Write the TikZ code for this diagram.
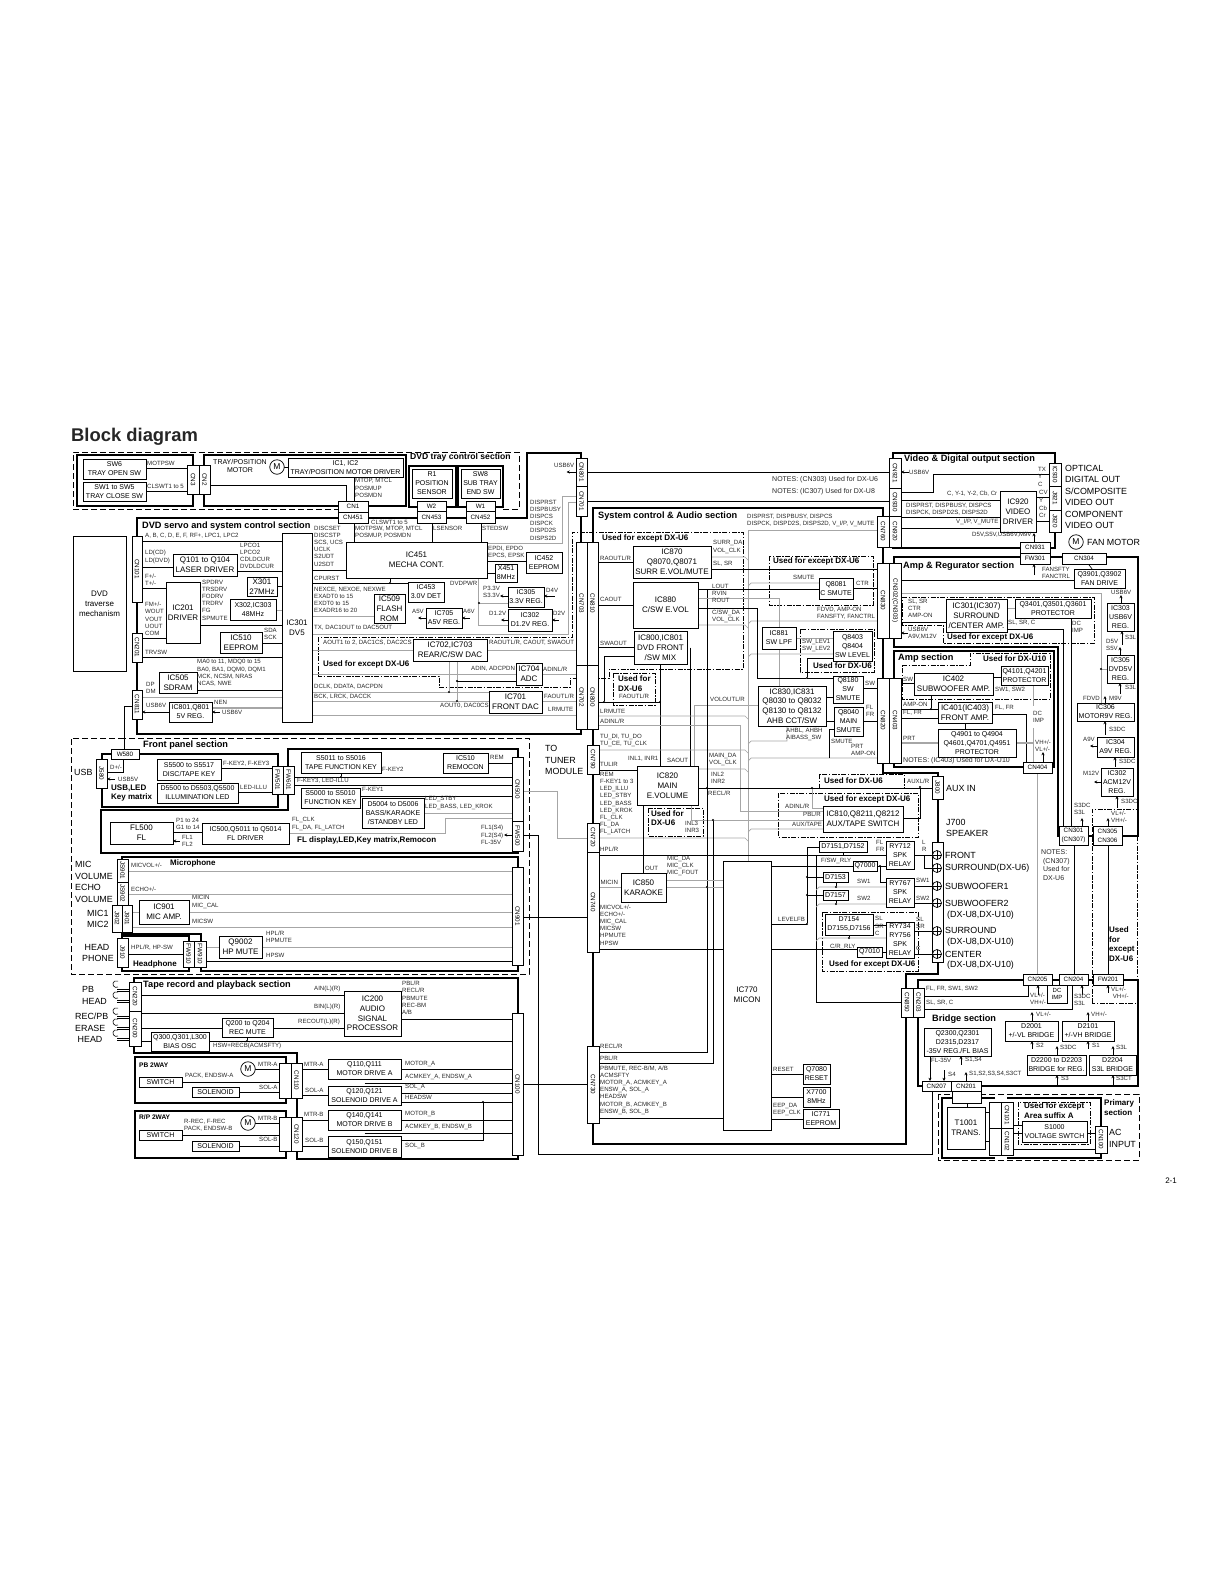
\documentclass[tikz,border=0pt]{standalone}
\usepackage{fontspec,graphicx}
\setmainfont{Liberation Sans}
\usetikzlibrary{arrows.meta,calc,backgrounds}
\tikzset{
  blk/.style={draw,rectangle,fill=white,inner sep=0pt,outer sep=0pt,line width=0.7pt,align=center,font=\fontsize{8}{9.8}\selectfont},
  blks/.style={blk,font=\fontsize{7}{9}\selectfont},
  cn/.style={blk,font=\fontsize{6.3}{7}\selectfont},
  span/.style args={#1/#2/#3/#4}{at={({(#1+#3)/2},{(#2+#4)/2})},minimum width={(#3-#1)*1pt},minimum height={(#4-#2)*1pt}},
  sig/.style={anchor=west,inner sep=0pt,align=left,text=black!85,font=\fontsize{6.1}{7.2}\selectfont},
  note/.style={sig,font=\fontsize{7}{8.7}\selectfont},
  sbold/.style={anchor=west,inner sep=0pt,align=left,font=\fontsize{8}{9.5}\selectfont\bfseries},
  sect/.style={anchor=west,inner sep=0pt,font=\fontsize{9.2}{10}\selectfont\bfseries},
  ext/.style={anchor=west,inner sep=0pt,align=left,font=\fontsize{8.9}{11.5}\selectfont},
  motor/.style={circle,draw,fill=white,inner sep=0pt,minimum size=14.5pt,line width=0.7pt,font=\fontsize{8.5}{9}\selectfont},
  spk/.style={circle,draw,fill=white,inner sep=0pt,minimum size=9pt,line width=0.7pt,path picture={
    \draw[line width=0.6pt] (path picture bounding box.north) -- (path picture bounding box.south);
    \draw[line width=0.6pt] (path picture bounding box.west) -- (path picture bounding box.east);}},
  dot/.style={circle,fill=black,inner sep=0pt,minimum size=2.4pt},
  wire/.style={line width=0.6pt},
  gwire/.style={line width=0.7pt,gray!70},
  gthick/.style={line width=1.3pt,gray!70},
  frm/.style={line width=1.7pt},
  dashbox/.style={line width=0.7pt,dash pattern=on 6pt off 3pt},
  ddbox/.style={line width=0.7pt,dash pattern=on 5pt off 1.5pt on 1.5pt off 1.5pt},
  arr/.style={-{Stealth[length=3.2pt,width=3pt]},line width=0.6pt},
  rarr/.style={{Stealth[length=3.2pt,width=3pt]}-,line width=0.6pt}
}
\newcommand{\vt}[1]{\rotatebox{-90}{#1}}
\newcommand{\hw}[4][wire]{\draw[#1] (#2 |- 0,#4) -- (#3 |- 0,#4);}
\newcommand{\vw}[4][wire]{\draw[#1] (#2 -| #4,0) -- (#3 -| #4,0);}
\newcommand{\busl}[2]{\draw[gwire] (#1 |- 0,#2) -- ($(BUS |- 0,#2)+(-3,0)$) -- ($(BUS |- 0,#2)+(0,3)$);}
\newcommand{\stub}[3]{\draw[gwire] ($(#1 |- 0,#3)+(0,3)$) -- ($(#1 |- 0,#3)+(3,0)$) -- (#2 |- 0,#3);}
\begin{document}
\begin{tikzpicture}[x=1pt,y=-1pt]
  \useasboundingbox (0,0) rectangle (1219,1582);
  \node[anchor=west,inner sep=0pt,font=\fontsize{18.4}{20}\selectfont\bfseries,text=black!85] (title) at (71,437) {Block diagram};
  \node[anchor=east,inner sep=0pt,font=\fontsize{8}{9}\selectfont] (page) at (1177,1181) {2-1};

  % DVD tray control
  \node[blks,span=83/459/146/479] (SW6) {SW6\\TRAY OPEN SW};
  \node[blks,span=83/482/146/501] (SW1) {SW1 to SW5\\TRAY CLOSE SW};
  \node[cn,span=187/465/199/494] (CN3) {\vt{CN3}};
  \node[cn,span=199/465/210/494] (CN2) {\vt{CN2}};
  \node[anchor=center,inner sep=0pt,align=center,font=\fontsize{7}{8}\selectfont] (tTray) at (240,466) {TRAY/POSITION\\MOTOR};
  \node[motor] (M1) at (277,467) {M};
  \node[blks,span=288/458/403/477] (IC1) {IC1, IC2\\TRAY/POSITION MOTOR DRIVER};
  \node[cn,span=338/501/368/512] (CN1) {CN1};
  \node[cn,span=338/512/368/523] (CN451) {CN451};
  \node[blks,span=412/469/452/498] (R1) {R1\\POSITION\\SENSOR};
  \node[blks,span=461/469/500/498] (SW8) {SW8\\SUB TRAY\\END SW};
  \node[cn,span=417/501/446/511] (W2) {W2};
  \node[cn,span=417/511/446/523] (CN453) {CN453};
  \node[cn,span=466/501/495/511] (W1) {W1};
  \node[cn,span=466/511/495/523] (CN452) {CN452};
  \node[sect,font=\fontsize{8.6}{10}\selectfont\bfseries] (tDvdTray) at (410,457) {DVD tray control section};
  \node[sig] (sMOTPSW) at (147,463) {MOTPSW};
  \node[sig] (sCLSWT) at (147,486) {CLSWT1 to 5};
  \node[sig] (sMTOP) at (355,488) {MTOP, MTCL\\POSMUP\\POSMDN};

  % DVD servo and system control
  \node[blk,span=73/536/126/671] (TRV) {DVD\\traverse\\mechanism};
  \node[sect] (tDvdServo) at (142,526) {DVD servo and system control section};
  \node[cn,span=132/536/142/602] (CN101) {\vt{CN101}};
  \node[cn,span=132/633/142/662] (CN201) {\vt{CN201}};
  \node[cn,span=132/690/142/719] (CN811) {\vt{CN811}};
  \node[blk,span=173/554/237/576] (Q101) {Q101 to Q104\\LASER DRIVER};
  \node[blk,span=166/582/200/643] (IC201) {IC201\\DRIVER};
  \node[blk,span=247/577/277/596] (X301) {X301\\27MHz};
  \node[blks,span=230/599/276/620] (X302) {X302,IC303\\48MHz};
  \node[blk,span=220/632/262/653] (IC510) {IC510\\EEPROM};
  \node[blk,span=159/672/197/693] (IC505) {IC505\\SDRAM};
  \node[blks,span=169/702/212/722] (IC801) {IC801,Q801\\5V REG.};
  \node[blk,span=282/533/312/722] (IC301) {IC301\\DV5};
  \node[blk,span=346/542/487/578] (IC451) {IC451\\MECHA CONT.};
  \node[blks,span=408/582/444/602] (IC453) {IC453\\3.0V DET};
  \node[blk,span=374/594/405/623] (IC509) {IC509\\FLASH\\ROM};
  \node[blks,span=426/608/462/628] (IC705) {IC705\\A5V REG.};
  \node[blks,span=526/552/562/573] (IC452) {IC452\\EEPROM};
  \node[blks,span=495/564/517/582] (X451) {X451\\8MHz};
  \node[blks,span=508/587/544/607] (IC305) {IC305\\3.3V REG.};
  \node[blks,span=508/609/552/631] (IC302) {IC302\\D1.2V REG.};
  \node[blk,span=413/639/487/661] (IC702) {IC702,IC703\\REAR/C/SW DAC};
  \node[blk,span=516/663/542/685] (IC704) {IC704\\ADC};
  \node[blk,span=489/691/542/713] (IC701) {IC701\\FRONT DAC};
  \node[cn,span=576/458/587/486] (CN801) {\vt{CN801}};
  \node[cn,span=576/486/587/516] (CN701) {\vt{CN701}};
  \node[cn,span=576/542/587/665] (CN703) {\vt{CN703}};
  \node[cn,span=576/665/587/729] (CN702) {\vt{CN702}};
  \node[cn,span=587/542/598/665] (CN810) {\vt{CN810}};
  \node[cn,span=587/665/598/729] (CN800) {\vt{CN800}};
  \node[sig] (sABC) at (145,536) {A, B, C, D, E, F, RF+, LPC1, LPC2};
  \node[sig] (sLD) at (145,557) {LD(CD)\\LD(DVD)};
  \node[sig] (sFT) at (145,580) {F+/-\\T+/-};
  \node[sig] (sFM) at (145,619) {FM+/-\\WOUT\\VOUT\\UOUT\\COM};
  \node[sig] (sTRVSW) at (145,652) {TRVSW};
  \node[sig] (sLPCO) at (240,556) {LPCO1\\LPCO2\\CDLDCUR\\DVDLDCUR};
  \node[sig] (sSPDRV) at (202,600) {SPDRV\\TRSDRV\\FODRV\\TRDRV\\FG\\SPMUTE};
  \node[sig] (sSDA) at (264,634) {SDA\\SCK};
  \node[sig] (sMA0) at (197,673) {MA0 to 11, MDQ0 to 15\\BA0, BA1, DQM0, DQM1\\MCK, NCSM, NRAS\\NCAS, NWE};
  \node[sig] (sDP) at (146,688) {DP\\DM};
  \node[sig] (sUSBa) at (146,705) {USB6V};
  \node[sig] (sNEN) at (214,702) {NEN};
  \node[sig] (sUSBb) at (222,712) {USB6V};
  \node[sig] (sDISC) at (314,546) {DISCSET\\DISCSTP\\SCS, UCS\\UCLK\\S2UDT\\U2SDT};
  \node[sig] (sCPU) at (314,578) {CPURST};
  \node[sig] (sNEX) at (314,600) {NEXCE, NEXOE, NEXWE\\EXADT0 to 15\\EXDT0 to 15\\EXADR16 to 20};
  \node[sig] (sTX) at (314,628) {TX, DAC1OUT to DAC5OUT};
  \node[sig] (sAOUT) at (323,643) {AOUT1 to 2, DAC1CS, DAC2CS};
  \node[sbold] (sUsedA) at (323,664) {Used for except DX-U6};
  \node[sig] (sDCLK) at (314,687) {DCLK, DDATA, DACPDN};
  \node[sig] (sBCK) at (314,697) {BCK, LRCK, DACCK};
  \node[sig] (sCLSb) at (371,522) {CLSWT1 to 5};
  \node[sig] (sMOTb) at (355,532) {MOTPSW, MTOP, MTCL\\POSMUP, POSMDN};
  \node[sig] (sLSEN) at (433,528) {LSENSOR};
  \node[sig] (sSTED) at (482,528) {STEDSW};
  \node[sig] (sEPD) at (488,552) {EPDI, EPDO\\EPCS, EPSK};
  \node[sig] (sDVDP) at (450,583) {DVDPWR};
  \node[sig] (sP33) at (483,592) {P3.3V\\S3.3V};
  \node[sig] (sD4V) at (546,590) {D4V};
  \node[sig] (sD12) at (489,613) {D1.2V};
  \node[sig] (sD2V) at (553,613) {D2V};
  \node[sig] (sA5V) at (412,611) {A5V};
  \node[sig] (sA6V) at (463,611) {A6V};
  \node[sig] (sDISP) at (530,520) {DISPRST\\DISPBUSY\\DISPCS\\DISPCK\\DISPD2S\\DISPS2D};
  \node[sig] (sUSBc) at (554,465) {USB6V};
  \node[sig] (sRAO) at (489,643) {RAOUTL/R, CAOUT, SWAOUT};
  \node[sig] (sADIN) at (471,669) {ADIN, ADCPDN};
  \node[sig] (sADL) at (543,669) {ADINL/R};
  \node[sig] (sFAO) at (544,696) {FAOUTL/R};
  \node[sig] (sLRM) at (548,709) {LRMUTE};
  \node[sig] (sAOUT0) at (440,706) {AOUT0, DAC0CS};
  \node[dot] (dA) at (390,583) {};
  \node[dot] (dB) at (449,692) {};
  \node[dot] (dC) at (457,701) {};
  \node[dot] (dD) at (457,681) {};
  \node[dot] (dE) at (479,603) {};

  % Front panel
  \node[cn,span=111/749/139/759] (W580) {W580};
  \node[cn,span=96/759/107/788] (J580) {\vt{J580}};
  \node[blks,span=157/759/221/780] (S5500) {S5500 to S5517\\DISC/TAPE KEY};
  \node[blks,span=157/783/238/803] (D5500) {D5500 to D5503,Q5500\\ILLUMINATION LED};
  \node[cn,span=272/766/283/794] (FW501) {\vt{FW501}};
  \node[cn,span=283/766/294/794] (FW601) {\vt{FW601}};
  \node[blks,span=301/752/381/773] (S5011) {S5011 to S5016\\TAPE FUNCTION KEY};
  \node[blks,span=443/753/488/773] (IC510b) {IC510\\REMOCON};
  \node[blks,span=301/788/360/808] (S5000) {S5000 to S5010\\FUNCTION KEY};
  \node[blks,span=362/798/424/828] (D5004) {D5004 to D5006\\BASS/KARAOKE\\/STANDBY LED};
  \node[cn,span=512/757/523/821] (CN500) {\vt{CN500}};
  \node[cn,span=512/821/523/851] (FW500) {\vt{FW500}};
  \node[blk,span=110/822/173/844] (FL500) {FL500\\FL};
  \node[blks,span=202/823/289/844] (IC500) {IC500,Q5011 to Q5014\\FL DRIVER};
  \node[sect] (tFront) at (143,745) {Front panel section};
  \node[ext] (tUSB) at (74,772) {USB};
  \node[sig] (sDpm) at (110,767) {D+/-};
  \node[sig] (sUSB5) at (118,779) {USB5V};
  \node[sbold] (sKeym) at (111,793) {USB,LED\\Key matrix};
  \node[sig] (sFK2) at (223,764) {F-KEY2, F-KEY3};
  \node[sig] (sLED) at (240,787) {LED-ILLU};
  \node[sig] (sREM) at (490,757) {REM};
  \node[sig] (sFK2b) at (382,769) {F-KEY2};
  \node[sig] (sFK3) at (297,781) {F-KEY3, LED-ILLU};
  \node[sig] (sFK1) at (362,789) {F-KEY1};
  \node[sig] (sSTBY) at (425,803) {LED\_STBY\\LED\_BASS, LED\_KROK};
  \node[sig] (sP1) at (176,824) {P1 to 24\\G1 to 14};
  \node[sig] (sFL1) at (182,841) {FL1\\FL2};
  \node[sig] (sFLC) at (292,824) {FL\_CLK\\FL\_DA, FL\_LATCH};
  \node[sbold] (sDisp) at (297,840) {FL display,LED,Key matrix,Remocon};
  \node[sig] (sFLS) at (481,835) {FL1(S4)\\FL2(S4)\\FL-35V};
  \node[dot] (dS) at (341,777) {};

  % Microphone and headphone
  \node[cn,span=117/859/128/882] (JS901) {\vt{JS901}};
  \node[cn,span=117/882/128/905] (JS902) {\vt{JS902}};
  \node[cn,span=112/905/122/932] (J902) {\vt{J902}};
  \node[cn,span=122/905/132/932] (J901) {\vt{J901}};
  \node[cn,span=117/938/128/967] (J910) {\vt{J910}};
  \node[blk,span=139/900/189/924] (IC901) {IC901\\MIC AMP.};
  \node[cn,span=183/941/194/967] (FW910) {\vt{FW910}};
  \node[cn,span=194/941/206/967] (FW910b) {\vt{FW910}};
  \node[blk,span=219/936/262/958] (Q9002) {Q9002\\HP MUTE};
  \node[cn,span=512/867/523/965] (CN901) {\vt{CN901}};
  \node[ext] (tMIC) at (75,882) {MIC\\VOLUME\\ECHO\\VOLUME};
  \node[ext,align=center] (tMIC12) at (87,919) {MIC1\\MIC2};
  \node[ext] (tHEAD) at (82,953) {~HEAD\\PHONE};
  \node[sig] (sMVOL) at (131,865) {MICVOL+/-};
  \node[sbold] (sMic) at (170,863) {Microphone};
  \node[sig] (sECHO) at (131,889) {ECHO+/-};
  \node[sig] (sMICIN) at (192,902) {MICIN\\MIC\_CAL};
  \node[sig] (sMICSW) at (192,921) {MICSW};
  \node[sig] (sHPL) at (131,948) {HPL/R, HP-SW};
  \node[sbold] (sHead) at (133,964) {Headphone};
  \node[sig] (sHPM) at (266,937) {HPL/R\\HPMUTE};
  \node[sig] (sHPSW) at (266,955) {HPSW};

  % Tape record and playback
  \node[cn,span=129/982/141/1011] (CN220) {\vt{CN220}};
  \node[cn,span=129/1011/141/1046] (CN200) {\vt{CN200}};
  \node[blks,span=222/1018/273/1037] (Q200) {Q200 to Q204\\REC MUTE};
  \node[blks,span=151/1032/209/1051] (Q300) {Q300,Q301,L300\\BIAS OSC};
  \node[blk,span=344/991/401/1036] (IC200) {IC200\\AUDIO\\SIGNAL\\PROCESSOR};
  \node[cn,span=512/1013/523/1155] (CN100) {\vt{CN100}};
  \node[sect] (tTape) at (143,985) {Tape record and playback section};
  \node[ext] (tPB) at (82,995.5) {PB\\HEAD};
  \node[ext] (tREC) at (75,1028) {REC/PB\\ERASE\\~HEAD};
  \node[sig] (sAIN) at (314,989) {AIN(L)(R)};
  \node[sig] (sBIN) at (314,1007) {BIN(L)(R)};
  \node[sig] (sROUT) at (298,1022) {RECOUT(L)(R)};
  \node[sig] (sHSW) at (213,1046) {HSW+RECB(ACMSFTY)};
  \node[sig] (sPBL) at (402,998) {PBL/R\\RECL/R\\PBMUTE\\REC-BM\\A/B};
  \node[dot] (dF) at (247,1041) {};
  \node[blks,span=139/1077/182/1087] (SWa) {SWITCH};
  \node[blks,span=192/1087/239/1097] (SOLa) {SOLENOID};
  \node[motor] (M2) at (248,1069) {M};
  \node[cn,span=279/1063/291/1098] (CNa) {};
  \node[cn,span=291/1063/302/1098] (CN110) {\vt{CN110}};
  \node[blks,span=139/1130/182/1140] (SWb) {SWITCH};
  \node[blks,span=192/1141/239/1151] (SOLb) {SOLENOID};
  \node[motor] (M3) at (248,1123) {M};
  \node[cn,span=279/1117/291/1151] (CNb) {};
  \node[cn,span=291/1117/302/1151] (CN120) {\vt{CN120}};
  \node[blks,span=328/1059/401/1079] (Q110) {Q110,Q111\\MOTOR DRIVE A};
  \node[blks,span=328/1086/401/1105] (Q120) {Q120,Q121\\SOLENOID DRIVE A};
  \node[blks,span=328/1110/401/1130] (Q140) {Q140,Q141\\MOTOR DRIVE B};
  \node[blks,span=328/1136/401/1157] (Q150) {Q150,Q151\\SOLENOID DRIVE B};
  \node[anchor=west,inner sep=0pt,font=\fontsize{6.6}{7}\selectfont\bfseries] (tPB2) at (139,1065) {PB 2WAY};
  \node[anchor=west,inner sep=0pt,font=\fontsize{6.6}{7}\selectfont\bfseries] (tRP2) at (139,1117) {R/P 2WAY};
  \node[sig] (sPACKa) at (185,1076) {PACK, ENDSW-A};
  \node[sig] (sSOLa) at (259,1087) {SOL-A};
  \node[sig] (sMTRa) at (258,1064) {MTR-A};
  \node[sig] (sRREC) at (184,1125.5) {R-REC, F-REC\\PACK, ENDSW-B};
  \node[sig] (sSOLb) at (259,1139) {SOL-B};
  \node[sig] (sMTRb) at (258,1118) {MTR-B};
  \node[sig] (sMTRc) at (304,1064) {MTR-A};
  \node[sig] (sSOLc) at (305,1090) {SOL-A};
  \node[sig] (sMTRd) at (304,1114) {MTR-B};
  \node[sig] (sSOLd) at (305,1140) {SOL-B};
  \node[sig] (sMOa) at (405,1064) {MOTOR\_A};
  \node[sig] (sACa) at (405,1077) {ACMKEY\_A, ENDSW\_A};
  \node[sig] (sSOa) at (405,1087) {SOL\_A};
  \node[sig] (sHDS) at (405,1097) {HEADSW};
  \node[sig] (sMOb) at (405,1114) {MOTOR\_B};
  \node[sig] (sACb) at (405,1127) {ACMKEY\_B, ENDSW\_B};
  \node[sig] (sSOb) at (405,1146) {SOL\_B};
  \node[dot] (dG) at (483,1102) {};

  % System control and audio
  \node[ext] (tTUN) at (545,760) {TO\\TUNER\\MODULE};
  \node[sect] (tSys) at (598,516) {System control \& Audio section};
  \node[cn,span=587/745/599/774] (CN790) {\vt{CN790}};
  \node[cn,span=587/823/599/852] (CN720) {\vt{CN720}};
  \node[cn,span=587/852/599/952] (CN740) {\vt{CN740}};
  \node[cn,span=587/1046/599/1123] (CN730) {\vt{CN730}};
  \node[blk,span=633/546/711/578] (IC870) {IC870\\Q8070,Q8071\\SURR E.VOL/MUTE};
  \node[blk,span=633/582/698/628] (IC880) {IC880\\C/SW E.VOL};
  \node[blk,span=634/631/687/664] (IC800) {IC800,IC801\\DVD FRONT\\/SW MIX};
  \node[blks,span=819/578/853/599] (Q8081) {Q8081\\C SMUTE};
  \node[blks,span=762/627/796/649] (IC881) {IC881\\SW LPF};
  \node[blks,span=833/631/872/661] (Q8403) {Q8403\\Q8404\\SW LEVEL};
  \node[blks,span=833/676/863/703] (Q8180) {Q8180\\SW\\SMUTE};
  \node[blks,span=834/707/863/736] (Q8040) {Q8040\\MAIN\\SMUTE};
  \node[blk,span=758/686/826/726] (IC830) {IC830,IC831\\Q8030 to Q8032\\Q8130 to Q8132\\AHB CCT/SW};
  \node[blk,span=637/766/698/805] (IC820) {IC820\\MAIN\\E.VOLUME};
  \node[blk,span=621/873/666/902] (IC850) {IC850\\KARAOKE};
  \node[blk,span=723/861/771/1130] (IC770) {};
  \node[inner sep=0pt,align=center,font=\fontsize{8}{9.8}\selectfont] (tMICON) at (747,995) {IC770\\MICON};
  \node[blk,span=823/806/903/832] (IC810) {IC810,Q8211,Q8212\\AUX/TAPE SWITCH};
  \node[blks,span=819/841/867/852] (D7151) {D7151,D7152};
  \node[blks,span=853/861/877/871] (Q7000) {Q7000};
  \node[blks,span=823/872/848/882] (D7153) {D7153};
  \node[blks,span=823/890/848/900] (D7157) {D7157};
  \node[blks,span=825/914/873/935] (D7154) {D7154\\D7155,D7156};
  \node[blks,span=857/947/882/957] (Q7010) {Q7010};
  \node[blks,span=886/841/914/869] (RY712) {RY712\\SPK\\RELAY};
  \node[blks,span=886/878/914/907] (RY767) {RY767\\SPK\\RELAY};
  \node[blks,span=886/922/914/958] (RY734) {RY734\\RY756\\SPK\\RELAY};
  \node[blks,span=803/1064/830/1084] (Q7080) {Q7080\\RESET};
  \node[blks,span=803/1087/830/1107] (X7700) {X7700\\8MHz};
  \node[blks,span=803/1109/839/1128] (IC771) {IC771\\EEPROM};
  \node[sbold] (sUsedB) at (602,538) {Used for except DX-U6};
  \node[sig] (sRAOb) at (600,558) {RAOUTL/R};
  \node[sig] (sCAO) at (600,599) {CAOUT};
  \node[sig] (sSWA) at (600,643) {SWAOUT};
  \node[sbold] (sUsedC) at (618,683.5) {Used for\\DX-U6};
  \node[sig] (sFAOb) at (619,696) {FAOUTL/R};
  \node[sig] (sLRMb) at (600,711) {LRMUTE};
  \node[sig] (sADLb) at (600,721) {ADINL/R};
  \node[sig] (sTUD) at (600,740.5) {TU\_DI, TU\_DO\\TU\_CE, TU\_CLK};
  \node[sig] (sTUL) at (600,764) {TULIR};
  \node[sig] (sINL) at (628,759) {INL1, INR1};
  \node[sig] (sSAO) at (667,760) {SAOUT};
  \node[sig] (sREMb) at (600,803.5) {REM\\F-KEY1 to 3\\LED\_ILLU\\LED\_STBY\\LED\_BASS\\LED\_KROK\\FL\_CLK\\FL\_DA\\FL\_LATCH};
  \node[sig] (sHPLb) at (600,849) {HPL/R};
  \node[sig] (sMICb) at (600.5,882) {MICIN};
  \node[sig] (sMVb) at (600,925) {MICVOL+/-\\ECHO+/-\\MIC\_CAL\\MICSW\\HPMUTE\\HPSW};
  \node[sig] (sOUT) at (645,868) {OUT};
  \node[sig] (sMDA) at (667,866) {MIC\_DA\\MIC\_CLK\\MIC\_FOUT};
  \node[sig] (sRECa) at (600,1046) {RECL/R};
  \node[sig] (sPBLb) at (600,1058) {PBL/R};
  \node[sig] (sPBM) at (600,1090) {PBMUTE, REC-B/M, A/B\\ACMSFTY\\MOTOR\_A, ACMKEY\_A\\ENSW\_A, SOL\_A\\HEADSW\\MOTOR\_B, ACMKEY\_B\\ENSW\_B, SOL\_B};
  \node[sig] (sMDAb) at (709,759.5) {MAIN\_DA\\VOL\_CLK};
  \node[sig] (sINL2) at (711,778) {INL2\\INR2};
  \node[sig] (sRECb) at (708,793) {RECL/R};
  \node[sig] (sINL3) at (685,827) {INL3\\INR3};
  \node[sbold] (sUsedD) at (651,818) {Used for\\DX-U6};
  \node[sig] (sSURR) at (713,547) {SURR\_DA\\VOL\_CLK};
  \node[sig] (sSLSR) at (713,564) {SL, SR};
  \node[sig] (sLOUT) at (712,593.5) {LOUT\\RVIN\\ROUT};
  \node[sig] (sCSW) at (712,616) {C/SW\_DA\\VOL\_CLK};
  \node[sig] (sVOLO) at (710,699) {VOLOUTL/R};
  \node[sig] (sDISPb) at (747,520.5) {DISPRST, DISPBUSY, DISPCS\\DISPCK, DISPD2S, DISPS2D, V\_I/P, V\_MUTE};
  \node[sbold] (sUsedE) at (773,561) {Used for except DX-U6};
  \node[sig] (sSMU) at (793,577) {SMUTE};
  \node[sig] (sCTR) at (856,583) {CTR};
  \node[sig] (sFDVD) at (817,613) {FDVD, AMP-ON\\FANSFTY, FANCTRL};
  \node[sig] (sSWL) at (802,645.5) {SW\_LEV1\\SW\_LEV2};
  \node[sbold] (sUsedF) at (813,666) {Used for DX-U6};
  \node[sig] (sSWc) at (865,683) {SW};
  \node[sig] (sFLFR) at (866,711) {FL\\FR};
  \node[sig] (sAHB) at (786,734.5) {AHBL, AHBH\\AIBASS\_SW};
  \node[sig] (sSMb) at (831,741) {SMUTE};
  \node[sig] (sPRT) at (851,750) {PRT\\AMP-ON};
  \node[sbold] (sUsedG) at (824,781) {Used for DX-U6};
  \node[sbold] (sUsedH) at (824,799) {Used for except DX-U6};
  \node[sig] (sADIc) at (785,806) {ADINL/R};
  \node[sig] (sPBLc) at (803,814) {PBL/R};
  \node[sig] (sAUXT) at (792,824) {AUX/TAPE};
  \node[sig] (sAUXL) at (907,781) {AUXL/R};
  \node[sig] (sFSW) at (821,861) {F/SW\_RLY};
  \node[sig] (sFLd) at (876,846) {FL\\FR};
  \node[sig] (sSW1) at (857,881) {SW1};
  \node[sig] (sSW2) at (857,898) {SW2};
  \node[sig] (sLEV) at (778,919) {LEVELFB};
  \node[sig] (sSLd) at (875,926) {SL\\SR\\C};
  \node[sig] (sCR) at (830,947) {C/R\_RLY};
  \node[sbold] (sUsedI) at (829,964) {Used for except DX-U6};
  \node[sig] (sRST) at (773,1069) {RESET};
  \node[sig] (sEEP) at (773,1109.5) {EEP\_DA\\EEP\_CLK};
  \node[dot] (dH) at (604,702) {};
  \node[dot] (dI) at (660,702) {};
  \node[dot] (dJ) at (707,788) {};
  \node[dot] (dK) at (707,887) {};
  \node[dot] (dL) at (713,820) {};
  \node[dot] (dM) at (807,678) {};
  \node[dot] (dN) at (812,788) {};
  \node[dot] (dO) at (920,787) {};
  \node[dot] (dP) at (880,866) {};
  \node[dot] (dQ) at (807,877) {};
  \node[dot] (dR) at (807,895) {};
  \node[dot] (dT) at (807,924) {};
  \node[dot] (dU) at (836,887) {};
  \node[dot] (dV) at (836,904) {};
  \node[dot] (dW) at (849,938) {};
  \coordinate (BUS) at (748,530);
  \coordinate (RAIL) at (816,855);
  \coordinate (jA) at (707,589);

  % Jacks and speaker terminals
  \node[cn,span=932/776/943/799] (J800) {\vt{J800}};
  \node[blk,span=932/842/943/962] (J700) {};
  \node[spk] (SP1) at (937,855) {};
  \node[spk] (SP2) at (937,868) {};
  \node[spk] (SP3) at (937,886) {};
  \node[spk] (SP4) at (937,903) {};
  \node[spk] (SP5) at (937,931) {};
  \node[spk] (SP6) at (937,954) {};
  \node[ext] (tAUX) at (946,788) {AUX IN};
  \node[ext] (tJ700) at (946,828) {J700\\SPEAKER};
  \node[ext] (tS1) at (945,855) {FRONT};
  \node[ext] (tS2) at (945,868) {SURROUND(DX-U6)};
  \node[ext] (tS3) at (945,886) {SUBWOOFER1};
  \node[ext] (tS4) at (945,903) {SUBWOOFER2};
  \node[ext] (tS4b) at (947,915) {(DX-U8,DX-U10)};
  \node[ext] (tS5) at (945,930) {SURROUND};
  \node[ext] (tS5b) at (947,942) {(DX-U8,DX-U10)};
  \node[ext] (tS6) at (945,954) {CENTER};
  \node[ext] (tS6b) at (947,965) {(DX-U8,DX-U10)};
  \node[sig] (sLR) at (922,846) {L\\R};
  \node[sig] (sSW1b) at (916,880) {SW1};
  \node[sig] (sSW2b) at (916,898) {SW2};
  \node[sig] (sSLb) at (916,922.5) {SL\\SR};
  \node[sig] (sCb) at (916,948) {C};

  % Video and digital output
  \node[cn,span=889/458/901/488] (CN921) {\vt{CN921}};
  \node[cn,span=889/488/901/516] (CN930) {\vt{CN930}};
  \node[cn,span=889/516/901/547] (CN920) {\vt{CN920}};
  \node[cn,span=877/516/889/547] (CN760) {\vt{CN760}};
  \node[blk,span=1000/491/1036/532] (IC920) {IC920\\VIDEO\\DRIVER};
  \node[cn,span=1049/463/1061/486] (IC930) {\vt{IC930}};
  \node[cn,span=1049/486/1061/510] (J921) {\vt{J921}};
  \node[cn,span=1049/510/1061/532] (J920) {\vt{J920}};
  \node[cn,span=1020/542/1050/553] (CN931) {CN931};
  \node[cn,span=1020/553/1050/564] (FW301) {FW301};
  \node[cn,span=1062/553/1106/564] (CN304) {CN304};
  \node[motor] (M4) at (1076,542) {M};
  \node[sect] (tVid) at (904,459) {Video \& Digital output section};
  \node[ext] (tOPT) at (1065,497) {OPTICAL\\DIGITAL OUT\\S/COMPOSITE\\VIDEO OUT\\COMPONENT\\VIDEO OUT};
  \node[ext] (tFAN) at (1087,542) {FAN MOTOR};
  \node[note] (sNOTa) at (772,480) {NOTES: (CN303) Used for DX-U6};
  \node[note] (sNOTb) at (772,492) {NOTES: (IC307) Used for DX-U8};
  \node[sig] (sUSBd) at (909,472) {USB6V};
  \node[sig] (sCY) at (947,494) {C, Y-1, Y-2, Cb, Cr};
  \node[sig] (sDISPc) at (906,509.5) {DISPRST, DISPBUSY, DISPCS\\DISPCK, DISPD2S, DISPS2D};
  \node[sig] (sVIP) at (956,522) {V\_I/P, V\_MUTE};
  \node[sig] (sTXa) at (1038,469) {TX};
  \node[sig] (sYC) at (1038,480.5) {Y\\C};
  \node[sig] (sCV) at (1039,492) {CV};
  \node[sig] (sYCb) at (1039,508) {Y\\Cb\\Cr};
  \node[sig] (sD5V) at (972,535) {D5V,S5V,USB6V,M9V};

  % Amp and regulator
  \node[cn,span=877/563/889/638] (CN830) {\vt{CN830}};
  \node[cn,span=889/563/901/638] (CN302) {\vt{CN302(CN303)}};
  \node[cn,span=877/678/889/763] (CN820) {\vt{CN820}};
  \node[cn,span=889/678/901/763] (CN403) {\vt{CN403}};
  \node[blks,span=1074/569/1125/588] (Q3901) {Q3901,Q3902\\FAN DRIVE};
  \node[blk,span=946/599/1007/632] (aIC301) {IC301(IC307)\\SURROUND\\/CENTER AMP.};
  \node[blks,span=1015/599/1091/618] (Q3401) {Q3401,Q3501,Q3601\\PROTECTOR};
  \node[blk,span=914/673/993/695] (IC402) {IC402\\SUBWOOFER AMP.};
  \node[blks,span=1001/666/1048/685] (Q4101) {Q4101,Q4201\\PROTECTOR};
  \node[blk,span=938/702/992/723] (IC401) {IC401(IC403)\\FRONT AMP.};
  \node[blks,span=938/729/1016/757] (Q4901) {Q4901 to Q4904\\Q4601,Q4701,Q4951\\PROTECTOR};
  \node[cn,span=1023/762/1052/773] (CN404) {CN404};
  \node[blks,span=1107/603/1134/631] (IC303) {IC303\\USB6V\\REG.};
  \node[blks,span=1107/655/1134/683] (rIC305) {IC305\\DVD5V\\REG.};
  \node[blks,span=1077/703/1134/721] (IC306) {IC306\\MOTOR9V REG.};
  \node[blks,span=1097/737/1134/757] (IC304) {IC304\\A9V REG.};
  \node[blks,span=1101/768/1133/796] (rIC302) {IC302\\ACM12V\\REG.};
  \node[cn,span=1059/826/1088/845,font=\fontsize{6.3}{9}\selectfont] (CN301) {CN301\\(CN307)};
  \node[cn,span=1093/826/1122/845,font=\fontsize{6.3}{9}\selectfont] (CN305) {CN305\\CN306};
  \node[sect] (tAmpR) at (903,566) {Amp \& Regurator section};
  \node[sig] (sFANS) at (1042,572.5) {FANSFTY\\FANCTRL};
  \node[sig] (sSLa) at (908,608.5) {SL, SR\\CTR\\AMP-ON};
  \node[sig] (sUSBe) at (908,633) {USB6V\\A9V,M12V};
  \node[sig] (sSLe) at (1008,623) {SL, SR, C};
  \node[sig] (sDCa) at (1072,627) {DC\\IMP};
  \node[sbold] (sUsedJ) at (947,637) {Used for except DX-U6};
  \node[sect] (tAmp) at (898,658) {Amp section};
  \node[sbold] (sUsedK) at (983,659) {Used for DX-U10};
  \node[sig] (sSWa) at (903,679) {SW};
  \node[sig] (sAMP) at (903,704) {AMP-ON};
  \node[sig] (sFLa) at (903,713) {FL, FR};
  \node[sig] (sFLb) at (995,708) {FL, FR};
  \node[sig] (sPRTb) at (903,738) {PRT};
  \node[note] (sNOTc) at (903,761) {NOTES: (IC403) Used for DX-U10};
  \node[sig] (sSW12) at (995,690) {SW1, SW2};
  \node[sig] (sDCb) at (1033,716.5) {DC\\IMP};
  \node[sig] (sVH) at (1035,745.5) {VH+/-\\VL+/-};
  \node[sig] (sUSBf) at (1111,592) {USB6V};
  \node[sig] (sS3La) at (1125,637) {S3L};
  \node[sig] (sD5Vb) at (1106,645) {D5V\\S5V};
  \node[sig] (sS3Lb) at (1125,687) {S3L};
  \node[sig] (sFDVb) at (1083,698) {FDVD};
  \node[sig] (sM9V) at (1109,698) {M9V};
  \node[sig] (sS3Da) at (1109,729) {S3DC};
  \node[sig] (sA9V) at (1083,739) {A9V};
  \node[sig] (sS3Db) at (1119,761) {S3DC};
  \node[sig] (sM12) at (1083,773) {M12V};
  \node[sig] (sS3Dc) at (1121,801) {S3DC};
  \node[sig] (sS3Dd) at (1074,809) {S3DC\\S3L};
  \node[sig] (sVLa) at (1111,816.5) {VL+/-\\VH+/-};
  \node[note] (sNOTd) at (1041,865) {NOTES:\\~(CN307)\\~Used for\\~DX-U6};
  \node[sbold] (sUsedL) at (1109,944) {Used\\for\\except\\DX-U6};
  \node[dot] (dX) at (1101,669) {};
  \node[dot] (dY) at (931,709) {};

  % Bridge section
  \node[cn,span=1023/974/1052/985] (CN205) {CN205};
  \node[cn,span=1059/974/1088/985] (CN204) {CN204};
  \node[cn,span=1093/974/1123/985] (FW201) {FW201};
  \node[cn,span=1047/985/1067/1003,font=\fontsize{6}{7}\selectfont] (DCIMP) {DC\\IMP};
  \node[cn,span=901/988/913/1017] (CN850) {\vt{CN850}};
  \node[cn,span=913/988/924/1017] (CN203) {\vt{CN203}};
  \node[blks,span=924/1028/991/1056] (Q2300) {Q2300,Q2301\\D2315,D2317\\-35V REG./FL BIAS};
  \node[blks,span=1005/1021/1058/1041] (D2001) {D2001\\+/-VL BRIDGE};
  \node[blks,span=1062/1021/1114/1041] (D2101) {D2101\\+/-VH BRIDGE};
  \node[blks,span=1027/1055/1086/1075] (D2200) {D2200 to D2203\\BRIDGE for REG.};
  \node[blks,span=1089/1055/1136/1075] (D2204) {D2204\\S3L BRIDGE};
  \node[cn,span=922/1081/951/1091] (CN207) {CN207};
  \node[cn,span=951/1081/981/1091] (CN201b) {CN201};
  \node[sect] (tBrg) at (932,1019) {Bridge section};
  \node[sig] (sFLc2) at (926,989) {FL, FR, SW1, SW2};
  \node[sig] (sSLc) at (926,1003) {SL, SR, C};
  \node[sig] (sVLb) at (1030,999) {VL+/-\\VH+/-};
  \node[sig] (sS3De) at (1074,1000) {S3DC\\S3L};
  \node[sig] (sVLc) at (1111,993) {VL+/-\\~VH+/-};
  \node[sig] (sVLd) at (1036,1014) {VL+/-};
  \node[sig] (sVHd) at (1091,1014) {VH+/-};
  \node[sig] (sS2) at (1036,1045) {S2};
  \node[sig] (sS1) at (1092,1045) {S1};
  \node[sig] (sS3Df) at (1060,1047) {S3DC};
  \node[sig] (sS3Lf) at (1116,1047) {S3L};
  \node[sig] (sS3) at (1061,1078) {S3};
  \node[sig] (sS3CT) at (1116,1078) {S3CT};
  \node[sig] (sFL35) at (931,1060) {FL-35V};
  \node[sig] (sS1S4) at (965,1060) {S1,S4};
  \node[sig] (sS4) at (948,1074) {S4};
  \node[sig] (sS1all) at (969,1074) {S1,S2,S3,S4,S3CT};

  % Primary section
  \node[blk,span=952/1091/981/1103] (CNT) {};
  \node[blk,span=947/1107/985/1149] (T1001) {T1001\\TRANS.};
  \node[cn,span=989/1102/1001/1128] (CNc) {};
  \node[cn,span=989/1128/1001/1155] (CNd) {};
  \node[cn,span=1001/1102/1013/1128] (CN101b) {\vt{CN101}};
  \node[cn,span=1001/1128/1013/1155] (CN102) {\vt{CN102}};
  \node[blks,span=1022/1121/1087/1142] (S1000) {S1000\\VOLTAGE SWTCH};
  \node[cn,span=1095/1126/1107/1153] (CN100b) {\vt{CN100}};
  \node[sbold] (sUsedM) at (1024,1110.5) {Used for except\\Area suffix A};
  \node[sbold] (sPrim) at (1104,1107.5) {Primary\\section};
  \node[ext] (tAC) at (1109,1138.5) {AC\\INPUT};

  \begin{scope}[on background layer]
    % Section frames
    \draw[dashbox] (340,509) -- (73,509) -- (73,452) -- (519,452) -- (519,509) -- (503,509);
    \draw[frm] (77,455) rectangle (193,506);
    \draw[frm] (204,455) rectangle (406,506);
    \draw[frm] (409,466) rectangle (456,507);
    \draw[frm] (458,466) rectangle (503,507);
    \draw[frm] (137,518) -- (527,518) -- (527,453) -- (581,453) -- (581,734) -- (137,734) -- cycle;
    \draw[dashbox] (124,738) -- (71,738) -- (71,974) -- (529,974) -- (529,738) -- (124,738);
    \draw[frm] (102,754) rectangle (278,807);
    \draw[frm] (288,766) -- (288,749) -- (518,749) -- (518,853) -- (101,853) -- (101,810) -- (288,810) -- (288,794);
    \draw[frm] (122,857) -- (518,857) -- (518,971) -- (201,971) -- (201,934) -- (122,934) -- cycle;
    \draw[frm] (122,936) rectangle (189,971);
    \draw[frm] (134,978) -- (518,978) -- (518,1159) -- (297,1159) -- (297,1053) -- (134,1053) -- cycle;
    \draw[frm] (135,1057) rectangle (286,1103);
    \draw[frm] (135,1111) rectangle (286,1158);
    \draw[frm] (593,508) -- (883,508) -- (883,773) -- (938,773) -- (938,974) -- (906,974) -- (906,1144) -- (593,1144) -- cycle;
    \draw[frm] (893,453) rectangle (1055,548);
    \draw[frm] (894,557) -- (1138,557) -- (1138,836) -- (1058,836) -- (1058,647) -- (894,647) -- cycle;
    \draw[frm] (894,651) rectangle (1054,767);
    \draw[frm] (918,980) rectangle (1138,1086);
    \draw[frm] (995,1098) -- (942,1098) -- (942,1158) -- (995,1158);
    \draw[frm] (1007,1098) -- (1101,1098) -- (1101,1158) -- (1007,1158);
    \draw[dashbox] (938,1094) rectangle (1139,1160);
    % Optional parts
    \draw[ddbox] (318,637) -- (318,676) -- (439,676) -- (439,687) -- (570,687) -- (570,678) -- (609,678) -- (609,669) -- (743,669) -- (743,532) -- (572,532) -- (572,637) -- cycle;
    \draw[ddbox] (613,673) rectangle (655,705);
    \draw[ddbox] (769,556) rectangle (873,605);
    \draw[ddbox] (800,629) rectangle (874,672);
    \draw[ddbox] (648,808) rectangle (703,836);
    \draw[ddbox] (819,774) rectangle (904,788);
    \draw[ddbox] (778,793) rectangle (918,837);
    \draw[ddbox] (822,912) rectangle (918,971);
    \draw[ddbox] (902,597) -- (1094,597) -- (1094,643) -- (943,643) -- (943,625) -- (902,625) -- cycle;
    \draw[ddbox] (902,665) -- (970,665) -- (970,653) -- (1050,653) -- (1050,699) -- (902,699) -- cycle;
    \draw[ddbox] (1092,1003) -- (1092,809) -- (1137,809) -- (1137,1003) -- cycle;
    \draw[ddbox] (1018,1102) rectangle (1090,1144);

    % Tray wires
    \hw{SW6}{CN3}{468}
    \hw{SW1}{CN3}{491}
    \draw[wire] (CN2 |- 0,485) -- (346,485) -- (CN1 -| 346,0);
    \hw{M1}{IC1}{467}
    \vw{IC1}{CN1}{354}
    \vw{CN451}{IC451}{354}
    \vw{CN453}{IC451}{432}
    \vw{CN452}{IC451}{481}

    % DVD servo wires
    \hw{CN101}{IC301}{541}
    \hw{CN101}{Q101}{567}
    \hw{CN101}{IC201}{588}
    \hw{CN201}{IC201}{638}
    \hw{CN201}{IC301}{657}
    \hw{Q101}{IC301}{571}
    \hw{X301}{IC301}{586}
    \hw[gwire]{X302}{IC301}{610}
    \hw{IC201}{IC301}{625}
    \hw{IC510}{IC301}{643}
    \hw{IC505}{IC301}{690}
    \hw[gwire]{CN811}{IC301}{697}
    \hw[gthick]{IC801}{IC301}{708}
    \draw[wire] (CN811 |- 0,706) -- (124,706) -- (W580 -| 124,0);
    \hw{IC301}{IC451}{570}
    \hw{IC301}{IC453}{583}
    \draw[wire] (IC451 -| 390,0) -- (dA);
    \hw[gwire]{IC301}{IC509}{616}
    \draw[gwire] (IC301 |- 0,634) -- (568,634) -- (568,502) -- (CN701 |- 0,502);
    \draw[gwire] (IC451 |- 0,543) -- (562,543) -- (562,496) -- (CN701 |- 0,496);
    \hw[gwire]{IC301}{IC702}{650}
    \hw[gwire]{IC702}{CN703}{650}
    \hw[gwire]{IC301}{IC704}{674}
    \hw[gwire]{IC704}{CN703}{674}
    \hw[gwire]{IC301}{IC701}{692}
    \hw[gwire]{IC301}{IC701}{701}
    \hw[gwire]{IC701}{CN702}{701}
    \hw[gwire]{IC301}{CN702}{715}
    \draw[gwire] (IC702 -| 449,0) -- (dB);
    \draw[gwire] (IC702 -| 457,0) -- (dC);
    \hw{dD}{IC704}{681}
    \hw{IC451}{IC452}{561}
    \hw{IC451}{X451}{573}
    \draw[gwire] (IC451 -| 478,0) |- (IC302 |- 0,625);
    \hw[gwire]{dE}{IC305}{603}
    \hw{CN801}{CN921}{472}
    \hw{CN701}{CN930}{501}
    \draw[arr] (CN801 |- 0,472) -- ++(-15,0);
    \draw[arr] (IC801 |- 0,712) -- (CN811.east |- 0,712);
    \draw[rarr] (IC801.east |- 0,712) -- ++(8,0);
    \draw[arr] (IC305.west |- 0,596) -- ++(-8,0);
    \draw[rarr] (IC305.east |- 0,596) -- ++(11,0);
    \draw[arr] (IC302.west |- 0,620) -- ++(-7,0);
    \draw[rarr] (IC302.east |- 0,620) -- ++(7,0);
    \draw[arr] (IC705.west |- 0,618) -- ++(-8,0);
    \draw[rarr] (IC705.east |- 0,618) -- ++(8,0);

    % Front panel wires
    \hw{S5500}{FW501}{768}
    \hw{D5500}{FW501}{792}
    \draw[wire] (J580 |- 0,772) -- (123,772) -- (W580 -| 123,0);
    \draw[rarr] (J580.east |- 0,779) -- ++(8,0);
    \hw{IC510b}{CN500}{763}
    \hw{FW601}{CN500}{777}
    \draw[wire] (S5011 -| dS) -- (dS);
    \hw{FW601}{CN500}{785}
    \hw{S5000}{CN500}{796}
    \hw[gwire]{D5004}{CN500}{813}
    \draw[gwire] (IC500 |- 0,833) -- (445,833) -- (445,818) -- (CN500 |- 0,818);
    \hw{FL500}{IC500}{832}
    \draw[rarr] (FL500.east |- 0,841) -- ++(7,0);
    \draw[arr] (FW500.west |- 0,835) -- ++(-8,0);
    \draw[gwire] (CN500 |- 0,791) -- (557,791) -- (557,838) -- (CN720 |- 0,838);
    \draw[wire] (CN207 -| 932,0) -- (932,1154) -- (538,1154) -- (538,835) -- (FW500 |- 0,835);

    % Microphone wires
    \hw[gwire]{JS901}{CN901}{871}
    \hw[gwire]{JS902}{CN901}{894}
    \hw[gwire]{J901}{IC901}{912}
    \hw[gwire]{IC901}{CN901}{912}
    \hw[gwire]{J901}{CN901}{927}
    \hw{J910}{FW910}{954}
    \hw[gwire]{FW910b}{Q9002}{947}
    \hw[gwire]{Q9002}{CN901}{947}
    \hw{FW910b}{CN901}{961}
    \hw{CN901}{CN740}{917}

    % Tape wires
    \foreach \y/\cn in {990/CN220,1001/CN220,1017/CN200,1028/CN200,1039/CN200} {
      \draw[wire] (118,\y-3) arc (60:300:3.4);
      \draw[wire] (117,\y-1) -- (\cn |- 0,\y-1);
      \draw[wire] (117,\y+1) -- (\cn |- 0,\y+1);
    }
    \hw{CN220}{IC200}{995}
    \hw{CN200}{IC200}{1013}
    \hw{CN200}{Q200}{1028}
    \hw{Q200}{IC200}{1028}
    \hw{CN200}{CN100}{1041}
    \draw[wire] (Q200 -| dF) -- (dF);
    \hw{IC200}{CN100}{1019}
    \hw{SWa}{CNa}{1082}
    \hw{SOLa}{CNa}{1092}
    \hw{M2}{CNa}{1069}
    \hw{SWb}{CNb}{1135}
    \hw{SOLb}{CNb}{1146}
    \hw{M3}{CNb}{1123}
    \hw{CN110}{Q110}{1069}
    \hw{CN110}{Q120}{1095}
    \hw{CN120}{Q140}{1120}
    \hw{CN120}{Q150}{1146}
    \hw{Q110}{CN100}{1069}
    \hw{Q110}{CN100}{1083}
    \hw{Q120}{CN100}{1093}
    \hw{Q120}{CN100}{1102}
    \hw{Q140}{CN100}{1120}
    \hw{Q140}{CN100}{1133}
    \draw[wire] (Q150 |- 0,1140) -- (483,1140) -- (dG);
    \hw{CN100}{CN730}{1084}

    % System control wires
    \draw[gwire] (BUS) -- (IC770 -| BUS);
    \draw[gwire] (BUS) -- (CN760 |- BUS);
    \hw{CN810}{IC870}{562}
    \hw{CN810}{IC880}{605}
    \hw{CN810}{IC800}{647}
    \draw[wire] (IC800 |- 0,656) -- (604,656) -- (dH);
    \hw{CN800}{dI}{702}
    \vw{IC800}{IC820}{660}
    \vw{IC800}{IC820}{690}
    \draw[gwire] (IC830 |- 0,705) -- (694,705) -- (IC820 -| 694,0);
    \hw{IC870}{CN830}{569}
    \busl{IC870}{557}
    \busl{IC880}{625}
    \busl{CN800}{716}
    \busl{CN790}{750}
    \busl{IC820}{769}
    \busl{CN720}{838}
    \stub{BUS}{Q8081}{583}
    \stub{BUS}{CN830}{621}
    \stub{BUS}{Q8403}{654}
    \stub{BUS}{CN820}{758}
    \stub{BUS}{IC810}{829}
    \draw[gwire] (BUS |- 0,744) -- (751,741) -- (787,741) -- (IC830 -| 787,0);
    \draw[gwire] (CN800 |- 0,725) -- (740,725) -- (740,811) -- (IC810 |- 0,811);
    \draw[gwire] (IC820 -| 691,0) -- (691,820) -- (IC810 |- 0,820);
    \hw{IC880}{Q8081}{589}
    \draw[wire] (jA) -- (707,1052) -- (CN730 |- 0,1052);
    \draw[wire] (dL) -- (713,1063) -- (CN730 |- 0,1063);
    \draw[gwire] (IC880 |- 0,598) -- (779,598) -- (IC830 -| 779,0);
    \draw[wire] (IC880 |- 0,608) -- (757,608) -- (757,678) -- (dM);
    \hw{dM}{Q8180}{678}
    \draw[wire] (dM) -- (807,658) -- (Q8403 |- 0,658);
    \hw{Q8081}{CN830}{588}
    \hw[gwire]{IC881}{Q8403}{638}
    \hw{IC830}{Q8180}{697}
    \hw{IC830}{Q8040}{721}
    \hw{Q8180}{CN820}{688}
    \hw{Q8040}{CN820}{721}
    \draw[wire] (Q8040 |- 0,729) -- (829,729) -- (829,758);
    \hw{CN790}{IC820}{770}
    \hw{IC820}{J800}{788}
    \draw[gwire] (dN) -- (812,808) -- (IC810 |- 0,808);
    \draw[wire] (IC810 |- 0,818) -- (920,818) -- (dO);
    \hw{CN740}{RY712}{855}
    \vw{IC820}{IC850}{643}
    \hw[gwire]{IC850}{IC770}{880}
    \hw[gwire]{CN740}{IC770}{887}
    \hw{CN740}{IC770}{949}
    \hw{IC770}{Q7010}{949}
    \hw{Q7010}{RY734}{952}
    \hw{CN730}{IC770}{1118}
    \hw{IC770}{Q7000}{866}
    \hw{Q7000}{RY712}{866}
    \draw[wire] (dP) -- (880,882) -- (RY767 |- 0,882);
    \draw[wire] (D7151 |- 0,847) -- (807,847) -- (dT);
    \hw{IC770}{dT}{924}
    \hw{dQ}{D7153}{877}
    \hw{dR}{D7157}{895}
    \draw[wire] (D7151 -| 843,0) -- (843,855);
    \draw[wire] (RAIL) -- (816,1002) -- (CN850 |- 0,1002);
    \stub{RAIL}{RY767}{887}
    \stub{RAIL}{RY767}{904}
    \stub{RAIL}{RY734}{938}
    \draw[wire] (D7153 -| dU) -- (dU);
    \draw[wire] (D7157 -| dV) -- (dV);
    \draw[wire] (D7154 -| dW) -- (dW);
    \hw{D7154}{RY734}{925}
    \hw{RY712}{SP1}{855}
    \draw[wire] (RY712 |- 0,855) -- (924,855) -- (924,868) -- (SP2);
    \hw{RY767}{SP3}{886}
    \hw{RY767}{SP4}{903}
    \hw{RY734}{SP5}{931}
    \hw{RY734}{SP6}{954}
    \hw{IC770}{Q7080}{1074}
    \hw{IC770}{X7700}{1097}
    \hw{IC770}{IC771}{1119}

    % Video wires
    \draw[wire] (CN930 |- 0,492) -- (933,492) -- (933,474) -- (IC930 |- 0,474);
    \hw{CN930}{IC920}{500}
    \hw{CN920}{IC920}{517}
    \hw{CN920}{IC920}{528}
    \hw{IC920}{J921}{497}
    \hw{IC920}{J920}{521}
    \draw[rarr] (CN921.east |- 0,472) -- ++(8,0);
    \draw[arr] (CN931.north -| 1034,0) -- ++(0,-9);
    \draw[arr] (FW301.south -| 1034,0) ++(0,11) -- (FW301.south -| 1034,0);
    \draw[wire] (CN304) -- (Q3901);

    % Amp and regulator wires
    \hw{CN302}{Q3901}{580}
    \draw[gwire] (CN302 |- 0,593) -- (1101,593) -- (IC306 -| 1101,0);
    \hw[gwire]{dX}{rIC305}{669}
    \hw{CN302}{aIC301}{622}
    \hw[gwire]{aIC301}{Q3401}{608}
    \draw[wire] (aIC301 |- 0,629) -- (1063,629) -- (CN301 -| 1063,0);
    \vw{Q3401}{CN301}{1071}
    \hw{CN403}{IC402}{683}
    \hw{IC402}{Q4101}{677}
    \hw{CN403}{IC401}{709}
    \hw{CN403}{IC401}{718}
    \draw[wire] (dY) -- (IC402 -| dY);
    \draw[wire] (IC401 |- 0,714) -- (1026,714) -- (CN404 -| 1026,0);
    \vw{IC401}{Q4901}{965}
    \hw[gthick]{CN403}{Q4901}{743}
    \draw[gthick] (Q4901 |- 0,743) -- (1033,743);
    \draw[gwire] (Q4101 -| 1033,0) -- (1033,706);
    \draw[gwire] (CN404 -| 1033,0) -- (1033,728);
    \vw[gwire]{CN404}{CN205}{1037}
    \vw{CN301}{CN204}{1074}
    \vw{CN305}{FW201}{1108}
    \draw[arr] (IC303.north -| 1121,0) -- ++(0,-8);
    \draw[rarr] (IC303.south -| 1122,0) -- ++(0,14);
    \draw[arr] (rIC305.north -| 1120,0) -- ++(0,-8);
    \draw[rarr] (rIC305.south -| 1120,0) -- ++(0,11);
    \draw[arr] (IC306.north -| 1105,0) -- ++(0,-7);
    \draw[rarr] (IC306.south -| 1105,0) -- ++(0,14);
    \draw[arr] (IC304.west |- 0,746) -- ++(-7,0);
    \draw[rarr] (IC304.south -| 1115,0) -- ++(0,10);
    \draw[arr] (rIC302.west |- 0,782) -- ++(-7,0);
    \draw[rarr] (rIC302.south -| 1117,0) -- ++(0,12);
    \draw[arr] (CN301.north -| 1082,0) -- ++(0,-8);
    \draw[arr] (CN305.north -| 1108,0) -- ++(0,-8);
    \draw[arr] (CN404.north -| 1043,0) -- ++(0,-10);
    \draw[rarr] (CN302.east |- 0,633) -- ++(7,0);

    % Bridge wires
    \draw[wire] (CN203 |- 0,996) -- (1028,996) -- (CN205 -| 1028,0);
    \draw[wire] (CN203 |- 0,1009) -- (1072,1009) -- (CN204 -| 1072,0);
    \draw[rarr] (CN205.south -| 1038,0) -- ++(0,10);
    \draw[rarr] (CN204.south -| 1082,0) -- ++(0,10);
    \draw[rarr] (FW201.south -| 1108,0) -- ++(0,8);
    \draw[arr] (D2001.north -| 1032,0) -- ++(0,-9);
    \draw[arr] (D2101.north -| 1088,0) -- ++(0,-9);
    \draw[rarr] (D2001.south -| 1032,0) -- ++(0,8);
    \draw[rarr] (D2101.south -| 1088,0) -- ++(0,8);
    \draw[arr] (D2200.north -| 1057,0) -- ++(0,-9);
    \draw[arr] (D2204.north -| 1113,0) -- ++(0,-9);
    \draw[rarr] (D2200.south -| 1057,0) -- ++(0,10);
    \draw[rarr] (D2204.south -| 1113,0) -- ++(0,10);
    \draw[arr] (Q2300.south -| 930,0) -- (CN207.north -| 930,0);
    \draw[rarr] (Q2300.south -| 961,0) -- ++(0,9);
    \draw[rarr] (CN207.north -| 944,0) -- ++(0,-11);
    \draw[arr] (CN201b.north -| 966,0) -- ++(0,-9);

    % Primary wires
    \vw{CNT}{T1001}{967}
    \hw{T1001}{CNc}{1112}
    \hw{T1001}{CNd}{1141}
    \hw{CN101b}{S1000}{1125}
    \hw{CN102}{S1000}{1133}
    \hw{CN102}{CN100b}{1149}
    \hw{S1000}{CN100b}{1133}
  \end{scope}
\end{tikzpicture}
\end{document}
